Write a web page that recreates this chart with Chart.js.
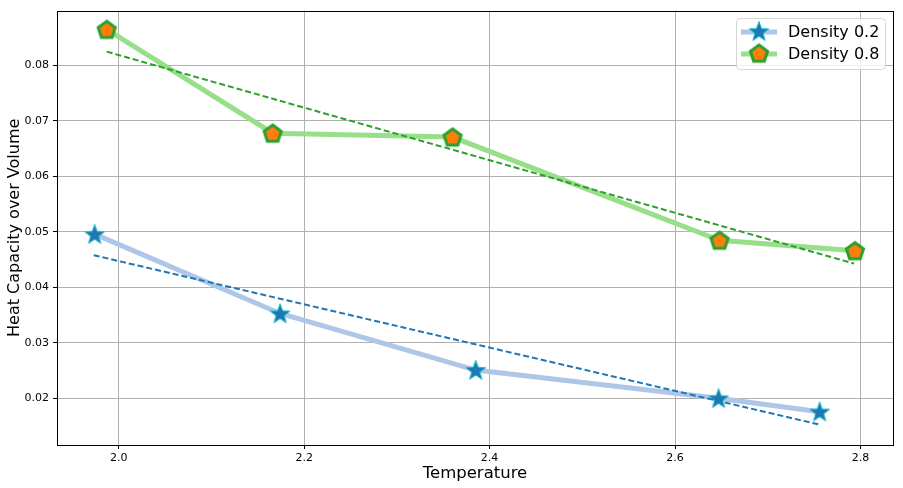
<!DOCTYPE html>
<html>
<head>
<meta charset="utf-8">
<script src="https://cdn.jsdelivr.net/npm/chart.js@4"></script>
<style>
  html, body { margin: 0; padding: 0; background: #fff; }
  #wrap { width: 903px; height: 488px; }
</style>
</head>
<body>
<div id="wrap"><canvas id="heatChart" width="903" height="488"></canvas></div>
<script>
// measured values
const temp02 = [1.974, 2.174, 2.385, 2.647, 2.756];
const heat02 = [0.0496, 0.0353, 0.0251, 0.0200, 0.0176];
const temp08 = [1.987, 2.166, 2.360, 2.648, 2.794];
const heat08 = [0.0865, 0.0678, 0.0671, 0.0485, 0.0466];
// linear fits (end points)
const fitX02 = [1.973, 2.755];
const fitY02 = [0.0458, 0.0153];
const fitX08 = [1.987, 2.793];
const fitY08 = [0.0825, 0.0443];

const xTicks = [2.0, 2.2, 2.4, 2.6, 2.8];
const yTicks = [0.02, 0.03, 0.04, 0.05, 0.06, 0.07, 0.08];
const seriesNames = ['Density 0.2', 'Density 0.8'];

const FONT = "'DejaVu Sans', sans-serif";

function toPoints(xs, ys) {
    return xs.map((x, i) => ({ x: x, y: ys[i] }));
}

// marker images
function makeStar() {
    const c = document.createElement('canvas');
    c.width = 24; c.height = 24;
    const g = c.getContext('2d');
    const R = 10.5, r = 4.3;
    g.beginPath();
    for (let i = 0; i < 10; i++) {
        const a = -Math.PI / 2 + i * Math.PI / 5;
        const rr = i % 2 === 0 ? R : r;
        const px = 12 + rr * Math.cos(a), py = 12.8 + rr * Math.sin(a);
        if (i === 0) g.moveTo(px, py); else g.lineTo(px, py);
    }
    g.closePath();
    g.fillStyle = '#1f77b4';
    g.fill();
    g.strokeStyle = '#17becf';
    g.lineWidth = 1;
    g.stroke();
    return c;
}

function makePentagon() {
    const c = document.createElement('canvas');
    c.width = 24; c.height = 24;
    const g = c.getContext('2d');
    const R = 9;
    g.beginPath();
    for (let i = 0; i < 5; i++) {
        const a = -Math.PI / 2 + i * 2 * Math.PI / 5;
        const px = 12 + R * Math.cos(a), py = 12.8 + R * Math.sin(a);
        if (i === 0) g.moveTo(px, py); else g.lineTo(px, py);
    }
    g.closePath();
    g.fillStyle = '#ff7f0e';
    g.fill();
    g.strokeStyle = '#2ca02c';
    g.lineWidth = 3;
    g.lineJoin = 'miter';
    g.stroke();
    return c;
}

const starImg = makeStar();
const pentImg = makePentagon();

// frame + legend drawn like matplotlib
const framePlugin = {
    id: 'frame',
    afterDraw(chart) {
        const ctx = chart.ctx;
        const a = chart.chartArea;
        ctx.save();
        ctx.strokeStyle = '#000';
        ctx.lineWidth = 1;
        ctx.strokeRect(Math.round(a.left) + 0.5, Math.round(a.top) + 0.5,
            Math.round(a.right - a.left), Math.round(a.bottom - a.top));

        // legend box
        const bx = 736, by = 18, bw = 149, bh = 51;
        ctx.beginPath();
        ctx.roundRect(bx + 0.5, by + 0.5, bw, bh, 4);
        ctx.fillStyle = 'rgba(255,255,255,0.8)';
        ctx.fill();
        ctx.strokeStyle = '#d6d6d6';
        ctx.stroke();

        const rows = [
            { y: 32, line: '#aec7e8', img: starImg, label: seriesNames[0] },
            { y: 54, line: '#98df8a', img: pentImg, label: seriesNames[1] }
        ];
        rows.forEach(row => {
            ctx.beginPath();
            ctx.moveTo(741, row.y);
            ctx.lineTo(777, row.y);
            ctx.strokeStyle = row.line;
            ctx.lineWidth = 5;
            ctx.stroke();
            ctx.drawImage(row.img, 759 - 12, row.y - 12.8);
            ctx.fillStyle = '#000';
            ctx.font = '16px ' + FONT;
            ctx.textBaseline = 'middle';
            ctx.textAlign = 'left';
            ctx.fillText(row.label, 788, row.y + 1);
        });
        ctx.restore();
    }
};

const ctx = document.getElementById('heatChart').getContext('2d');
const chart = new Chart(ctx, {
    type: 'line',
    data: {
        datasets: [
            {
                label: 'fit 0.2',
                data: toPoints(fitX02, fitY02),
                borderColor: '#1f77b4',
                borderWidth: 2,
                borderDash: [6, 3],
                pointRadius: 0,
                fill: false
            },
            {
                label: 'fit 0.8',
                data: toPoints(fitX08, fitY08),
                borderColor: '#2ca02c',
                borderWidth: 2,
                borderDash: [6, 3],
                pointRadius: 0,
                fill: false
            },
            {
                label: seriesNames[0],
                data: toPoints(temp02, heat02),
                borderColor: '#aec7e8',
                borderWidth: 5,
                pointStyle: starImg,
                pointRadius: 10,
                fill: false
            },
            {
                label: seriesNames[1],
                data: toPoints(temp08, heat08),
                borderColor: '#98df8a',
                borderWidth: 5,
                pointStyle: pentImg,
                pointRadius: 10,
                fill: false
            }
        ]
    },
    options: {
        responsive: false,
        animation: false,
        events: [],
        layout: {
            autoPadding: false,
            padding: { top: 10, right: 10, left: 0, bottom: 0 }
        },
        plugins: {
            legend: { display: false },
            tooltip: { enabled: false }
        },
        scales: {
            x: {
                type: 'linear',
                min: 1.9334,
                max: 2.8351,
                afterBuildTicks: scale => {
                    scale.ticks = xTicks.map(v => ({ value: v }));
                },
                afterFit: scale => { scale.height = 43; },
                grid: {
                    color: '#b0b0b0',
                    lineWidth: 1,
                    tickColor: '#000',
                    tickLength: 4
                },
                border: { display: false },
                ticks: {
                    color: '#000',
                    padding: 3,
                    maxRotation: 0,
                    font: { family: FONT, size: 11 },
                    callback: v => v.toFixed(1)
                },
                title: {
                    display: true,
                    text: 'Temperature',
                    color: '#000',
                    font: { family: FONT, size: 16.5 },
                    padding: { top: 0, bottom: 4 }
                }
            },
            y: {
                type: 'linear',
                min: 0.01159,
                max: 0.0899,
                afterBuildTicks: scale => {
                    scale.ticks = yTicks.map(v => ({ value: v }));
                },
                afterFit: scale => { scale.width = 57; },
                grid: {
                    color: '#b0b0b0',
                    lineWidth: 1,
                    tickColor: '#000',
                    tickLength: 4
                },
                border: { display: false },
                ticks: {
                    color: '#000',
                    padding: 4,
                    font: { family: FONT, size: 11 },
                    callback: v => v.toFixed(2)
                },
                title: {
                    display: true,
                    text: 'Heat Capacity over Volume',
                    color: '#000',
                    font: { family: FONT, size: 16 },
                    padding: { top: 5, bottom: 0 }
                }
            }
        }
    },
    plugins: [framePlugin]
});
</script>
</body>
</html>
